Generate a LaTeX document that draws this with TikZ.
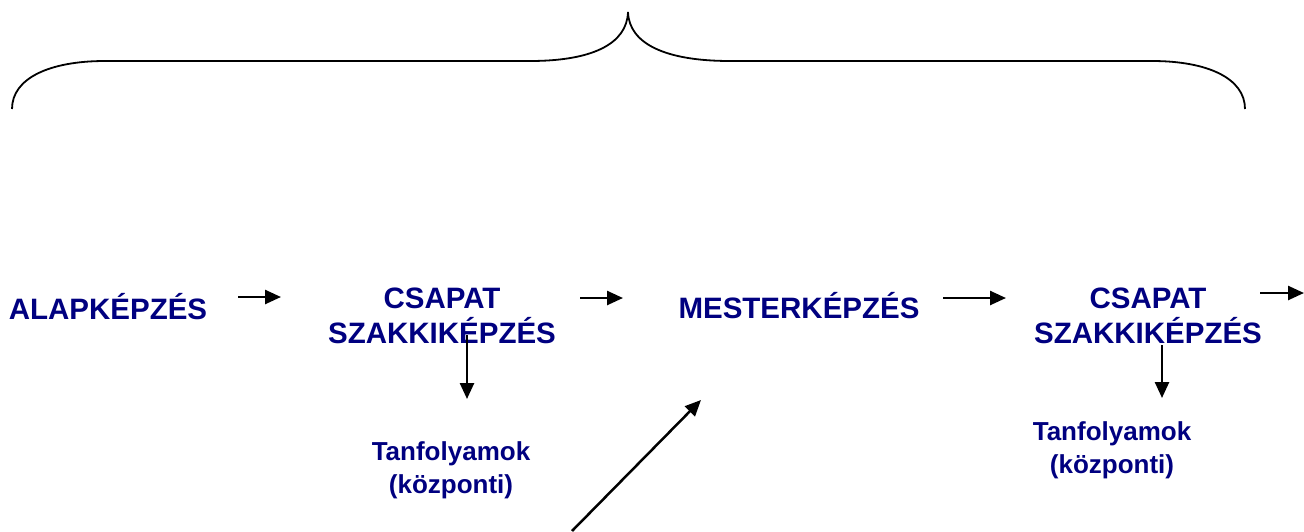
\documentclass[tikz,border=0pt]{standalone}
\usepackage{fontspec}
\setmainfont{Liberation Sans}
\usetikzlibrary{arrows.meta}
\definecolor{navytext}{RGB}{0,0,128}
\tikzset{
  bigtxt/.style={inner sep=0pt, text=navytext, align=center, anchor=base,
    font=\fontsize{29.5}{35}\selectfont\bfseries},
  smalltxt/.style={inner sep=0pt, text=navytext, align=center, anchor=base,
    font=\fontsize{26}{33}\selectfont\bfseries},
  arr/.style={line width=2.5pt, -{Triangle[length=16pt,width=14pt]}},
  bracestyle/.style={line width=1.8pt}
}
\begin{document}
\begin{tikzpicture}[x=1pt,y=-1pt]
\useasboundingbox (0,0) rectangle (1304,531);
% brace
\draw[bracestyle] (12,109) .. controls (12,78) and (50,61) .. (105,61)
  -- (530,61) .. controls (592,61) and (627,44) .. (628,12)
  .. controls (629,44) and (666,61) .. (730,61)
  -- (1152,61) .. controls (1207,61) and (1245,78) .. (1245,109);
% texts
\node[bigtxt] (alap) at (108,319) {ALAPKÉPZÉS};
\node[bigtxt] (csapat1) at (442,343) {CSAPAT\\SZAKKIKÉPZÉS};
\node[bigtxt] (mester) at (799,318) {MESTERKÉPZÉS};
\node[bigtxt] (csapat2) at (1148,343) {CSAPAT\\SZAKKIKÉPZÉS};
\node[smalltxt] (tanf1) at (451,493) {Tanfolyamok\\(központi)};
\node[smalltxt] (tanf2) at (1112,473) {Tanfolyamok\\(központi)};
% arrow end points
\coordinate (a1s) at (238,297); \coordinate (a1e) at (281,297);
\coordinate (a2s) at (580,298); \coordinate (a2e) at (623,298);
\coordinate (a3s) at (943,298); \coordinate (a3e) at (1006,298);
\coordinate (a4s) at (1260,293); \coordinate (a4e) at (1304,293);
\coordinate (v1s) at (467,335); \coordinate (v1e) at (467,399);
\coordinate (v2s) at (1162,345); \coordinate (v2e) at (1162,398);
\coordinate (ds) at (572,531); \coordinate (de) at (701,400);
\draw[arr] (a1s) -- (a1e);
\draw[arr] (a2s) -- (a2e);
\draw[arr] (a3s) -- (a3e);
\draw[arr] (a4s) -- (a4e);
\draw[arr] (v1s) -- (v1e);
\draw[arr] (v2s) -- (v2e);
\draw[arr] (ds) -- (de);
\end{tikzpicture}
\end{document}
